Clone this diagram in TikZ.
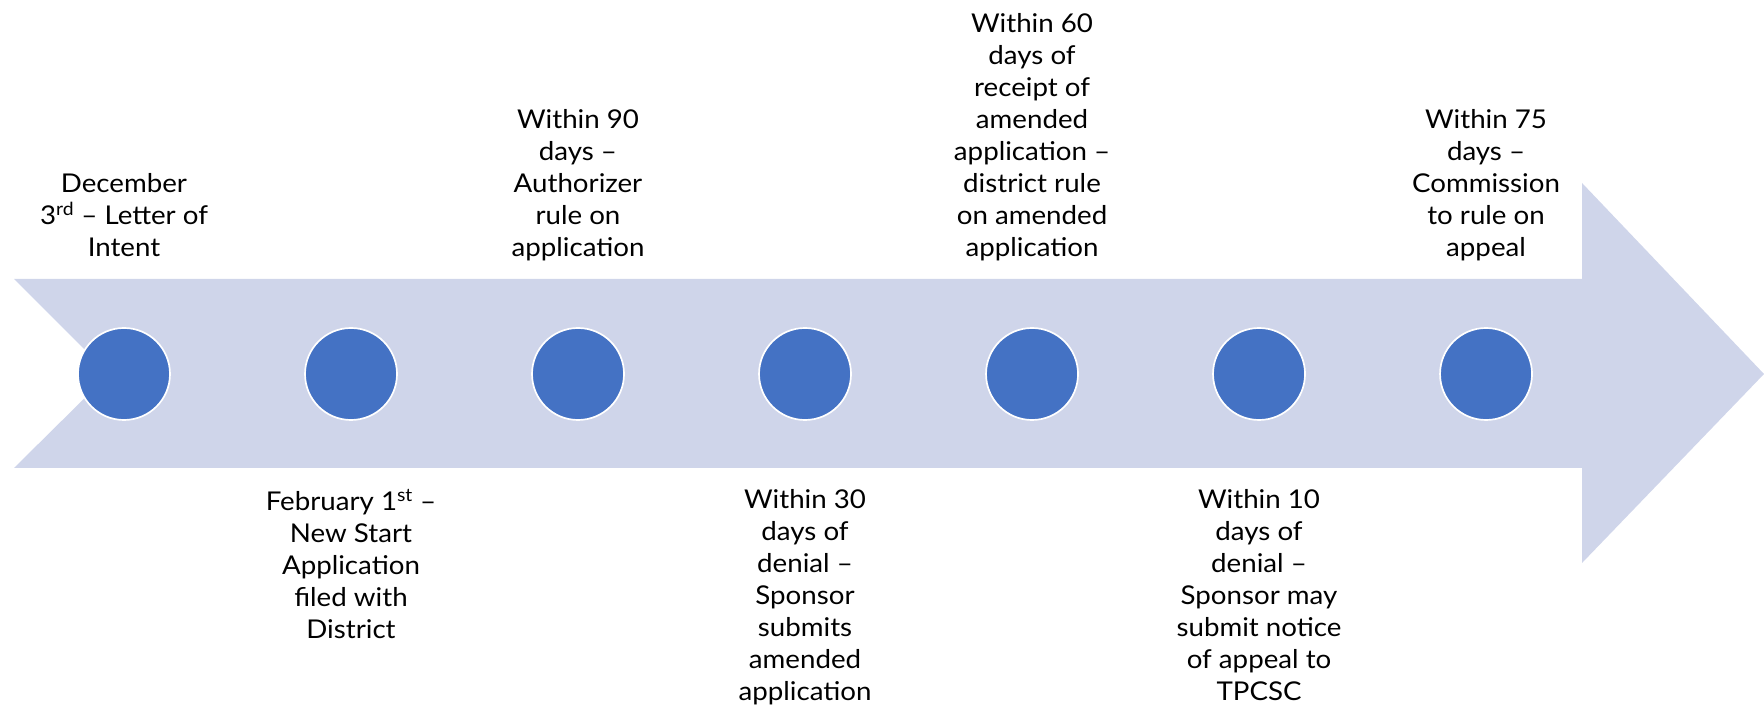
\documentclass[tikz,border=0pt]{standalone}
\usepackage{fontspec}
\setmainfont{Lato}[FakeStretch=1.07]
\usetikzlibrary{positioning}
\definecolor{band}{HTML}{CFD5EA}
\definecolor{dotblue}{HTML}{4472C4}

\begin{document}
\begin{tikzpicture}[x=0.25mm,y=0.25mm,node distance=56.75mm,
    dot/.style={circle,fill=dotblue,draw=white,line width=1.2pt,minimum size=23mm,inner sep=0pt},
    lbl/.style={align=center,inner sep=0pt,font=\fontsize{18.4}{22.8}\selectfont},
    toplbl/.style={lbl,execute at end node=\strut}]
    \useasboundingbox (0,0) rectangle (1764,708);
    % the big notched arrow
    \fill[band] (14,429) -- (1582,429) -- (1582,525) -- (1764,334) -- (1582,145)
        -- (1582,240) -- (14,240) -- (109,334) -- cycle;

    \node[dot] (1) at (124,334) {};
    \node[dot] (2) [right of=1] {};
    \node[dot] (3) [right of=2] {};
    \node[dot] (4) [right of=3] {};
    \node[dot] (5) [right of=4] {};
    \node[dot] (6) [right of=5] {};
    \node[dot] (7) [right of=6] {};

    % labels above
    \node[toplbl,above=15.2mm of 1] (t1) {December\\3\textsuperscript{rd} – Letter of\\Intent};
    \node[toplbl,above=15.2mm of 3] (t3) {Within 90\\days –\\Authorizer\\rule on\\application};
    \node[toplbl,above=15.2mm of 5] (t5) {Within 60\\days of\\receipt of\\amended\\application –\\district rule\\on amended\\application};
    \node[toplbl,above=15.2mm of 7] (t7) {Within 75\\days –\\Commission\\to rule on\\appeal};

    % labels below
    \node[lbl,below=17mm of 2] (b2) {February 1\textsuperscript{st} –\\New Start\\Application\\filed with\\District};
    \node[lbl,below=17mm of 4] (b4) {Within 30\\days of\\denial –\\Sponsor\\submits\\amended\\application};
    \node[lbl,below=17mm of 6] (b6) {Within 10\\days of\\denial –\\Sponsor may\\submit notice\\of appeal to\\TPCSC};
\end{tikzpicture}
\end{document}
